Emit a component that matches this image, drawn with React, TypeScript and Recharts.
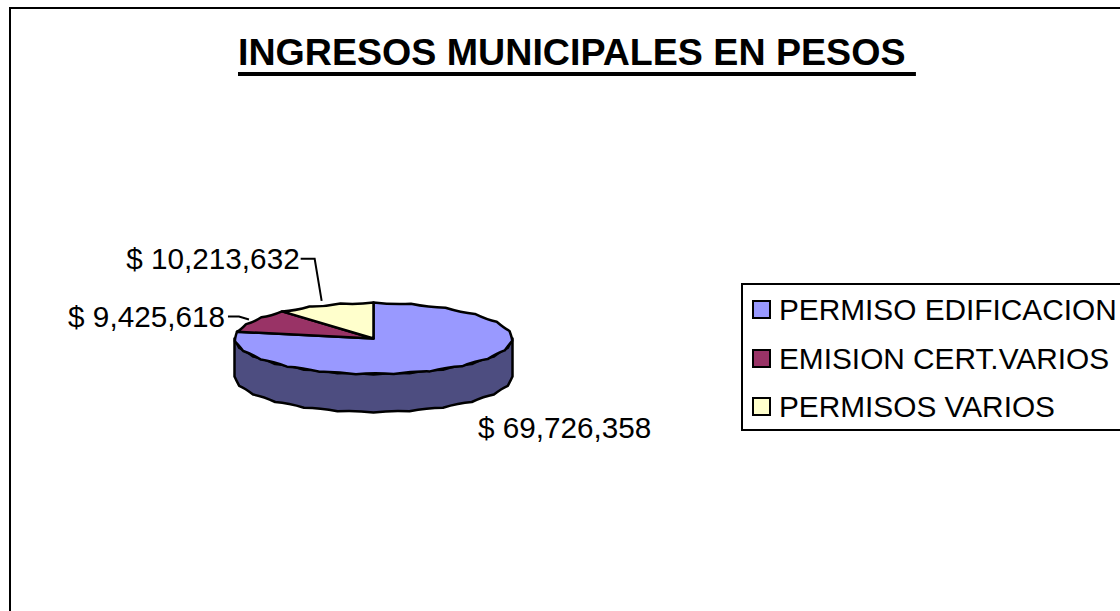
import { PieChart, Pie, Legend } from "recharts";

const CATEGORIES = ["PERMISO EDIFICACION", "EMISION CERT.VARIOS", "PERMISOS VARIOS"];
const VALUES = [69726358, 9425618, 10213632];
const COLORS = ["#9999ff", "#993366", "#ffffcc"];
const SIDE_COLORS = ["#4d4d80", "#4d1a33", "#808066"];

const chartData = CATEGORIES.map((name, i) => ({
  name,
  value: VALUES[i],
  fill: COLORS[i],
}));

const FONT = "'Liberation Sans', Arial, sans-serif";
const SQUASH = 36 / 139; // pie is drawn flat, height of ellipse / width
const DEPTH = 38;
const RAD = Math.PI / 180;

// point on the flattened pie rim
function rim(cx: number, cy: number, r: number, deg: number) {
  return { x: cx + r * Math.cos(deg * RAD), y: cy - r * SQUASH * Math.sin(deg * RAD) };
}

// rim from angle a to angle b in short bowed segments, gives the lumpy outline of the old office chart
function rimPath(cx: number, cy: number, r: number, a: number, b: number, dy = 0) {
  const stepCount = Math.max(1, Math.ceil(Math.abs(b - a) / 16));
  let d = "";
  for (let i = 1; i <= stepCount; i++) {
    const deg = a + ((b - a) * i) / stepCount;
    const mid = a + ((b - a) * (i - 0.5)) / stepCount;
    const p = rim(cx, cy, r, deg);
    const c = rim(cx, cy, r, mid);
    const pull = c.y > cy ? -2 : 2;
    d += ` Q${c.x.toFixed(1)} ${(c.y + pull + dy).toFixed(1)} ${p.x.toFixed(1)} ${(p.y + dy).toFixed(1)}`;
  }
  return d;
}

function Slice3D(props: any) {
  const { cx, cy, outerRadius: r, startAngle, endAngle, fill, index } = props;
  const start = rim(cx, cy, r, startAngle);
  const top = `M${cx} ${cy} L${start.x} ${start.y}${rimPath(cx, cy, r, startAngle, endAngle)} Z`;

  // the wall only shows on the front half of the pie
  const from = Math.min(startAngle, 0);
  const to = Math.max(endAngle, -180);
  let wall = null;
  if (from > to) {
    const a = rim(cx, cy, r, from);
    const b = rim(cx, cy, r, to);
    const d =
      `M${a.x} ${a.y}${rimPath(cx, cy, r, from, to)}` +
      ` L${b.x} ${b.y + DEPTH}${rimPath(cx, cy, r, to, from, DEPTH)} Z`;
    wall = <path d={d} fill={SIDE_COLORS[index]} stroke="#000" strokeWidth={2.5} strokeLinejoin="round" />;
  }
  return (
    <g>
      {wall}
      <path d={top} fill={fill} stroke="#000" strokeWidth={2.5} strokeLinejoin="round" />
    </g>
  );
}

const money = (v: number) => "$ " + v.toLocaleString("en-US");

function SliceLabel(props: any) {
  const { cx, cy, outerRadius: r, midAngle, index, value } = props;
  const p = rim(cx, cy, r, midAngle);
  const textStyle = { fontFamily: FONT, fontSize: 29.7, fill: "#000" };
  if (index === 0) {
    return (
      <text x={p.x + 16} y={p.y + 72} textAnchor="start" {...textStyle}>
        {money(value)}
      </text>
    );
  }
  const y = index === 1 ? p.y - 4 : p.y - 46;
  const knee = index === 1 ? p.x - 14 : p.x - 10;
  return (
    <g>
      <polyline
        points={`${knee - (index === 1 ? 11 : 14)},${y} ${knee},${y} ${p.x - (index === 1 ? 4 : 3)},${p.y - (index === 1 ? 1 : 4)}`}
        fill="none"
        stroke="#000"
        strokeWidth={2}
      />
      <text x={knee - (index === 1 ? 14 : 15)} y={y + 10} textAnchor="end" {...textStyle}>
        {money(value)}
      </text>
    </g>
  );
}

function LegendBox({ payload }: any) {
  return (
    <div
      style={{
        width: 400,
        height: 144,
        border: "2px solid #000",
        boxSizing: "content-box",
        background: "#fff",
        fontFamily: FONT,
        fontSize: 29.8,
        color: "#000",
      }}
    >
      {(payload || []).map((entry: any, i: number) => (
        <div key={i} style={{ position: "absolute", left: 11, top: 10 + i * 48.5, whiteSpace: "nowrap", lineHeight: "34px" }}>
          <span
            style={{
              position: "absolute",
              left: 0,
              top: 7,
              width: 15,
              height: 15,
              border: "2px solid #000",
              background: COLORS[i],
            }}
          />
          <span style={{ marginLeft: 27 }}>{entry.value}</span>
        </div>
      ))}
    </div>
  );
}

export default function App() {
  return (
    <div style={{ position: "absolute", left: 0, top: 0, width: 1120, height: 611, overflow: "hidden", background: "#fff" }}>
      <div style={{ position: "absolute", left: 9, top: 7, width: 1300, height: 800, border: "2px solid #000" }} />
      <div
        style={{
          position: "absolute",
          left: 238,
          top: 28,
          fontFamily: FONT,
          fontWeight: "bold",
          fontSize: 37.6,
          lineHeight: "48px",
          textDecoration: "underline",
          textDecorationThickness: 4,
          textUnderlineOffset: 7,
          textDecorationSkipInk: "none",
          whiteSpace: "pre",
          color: "#000",
        }}
      >
        {"INGRESOS MUNICIPALES EN PESOS "}
      </div>
      <div style={{ position: "absolute", left: 0, top: 0 }}>
        <PieChart width={1120} height={611} margin={{ top: 0, right: 0, bottom: 0, left: 0 }}>
          <Pie
            data={chartData}
            dataKey="value"
            nameKey="name"
            cx={373.5}
            cy={338.5}
            outerRadius={139}
            startAngle={90}
            endAngle={-270}
            paddingAngle={0}
            stroke="#000"
            isAnimationActive={false}
            labelLine={false}
            label={SliceLabel}
            shape={Slice3D}
          />
          <Legend
            layout="vertical"
            itemSorter={null}
            content={LegendBox}
            wrapperStyle={{ position: "absolute", left: 741, top: 283, width: 404, height: 148 }}
          />
        </PieChart>
      </div>
    </div>
  );
}
